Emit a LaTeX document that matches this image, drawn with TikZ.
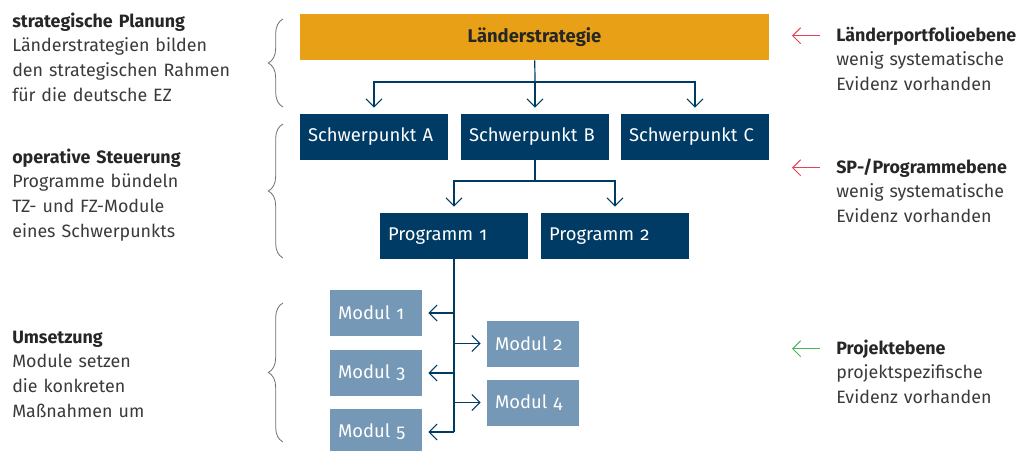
\documentclass[tikz,border=0pt]{standalone}
\usepackage{fontspec}
\setmainfont[Numbers=OldStyle]{Fira Sans}
\usetikzlibrary{arrows.meta,decorations.pathreplacing}

\definecolor{landorange}{HTML}{E8A117}
\definecolor{spblue}{HTML}{003B65}
\definecolor{modblue}{HTML}{7598B6}
\definecolor{txtgray}{HTML}{3A3A3A}
\definecolor{evred}{HTML}{E8414F}
\definecolor{evgreen}{HTML}{4DB45A}
\definecolor{bracegray}{HTML}{6E6E6E}

\newcommand{\txtfont}{\fontsize{13.4}{18.6}\selectfont}
\newcommand{\boxfont}{\fontsize{13.8}{18.6}\selectfont}

\tikzset{
  box/.style={fill=spblue, text=white, minimum height=34.5pt, inner xsep=6pt,
    inner ysep=0pt, text width=99pt, align=left, font=\boxfont},
  modbox/.style={box, fill=modblue, text width=57pt},
  link/.style={draw=spblue, line width=0.9pt},
  conn/.style={link, -{Straight Barb[length=6pt,width=12pt]}, shorten >=4.5pt},
  levelbrace/.style={decorate, decoration={brace, amplitude=11pt},
    draw=bracegray, line width=0.6pt},
  lefttext/.style={text=txtgray, text width=210pt, align=left, inner sep=0pt,
    anchor=base west, font=\txtfont},
  evtitle/.style={text=black!85, inner sep=0pt, anchor=base west,
    font=\txtfont\bfseries},
  evbody/.style={text=txtgray, text width=150pt, align=left, inner sep=0pt,
    anchor=base west, font=\txtfont},
  evarrow/.style={line width=0.7pt, -{Straight Barb[length=6pt,width=12pt]},
    shorten <=12pt}
}

\begin{document}
\begin{tikzpicture}[x=0.75pt, y=-0.75pt]
  \clip (0,0) rectangle (1028,450);

  % hierarchy boxes
  \node[box, fill=landorange, text=black!85, minimum width=351.75pt,
    text width=339.75pt, align=center, font=\boxfont\bfseries] (land) at (534.5,37) {Länderstrategie};

  \node[box] (spa) at (374,137) {Schwerpunkt A};
  \node[box] (spb) at (535,137) {Schwerpunkt B};
  \node[box] (spc) at (695,137) {Schwerpunkt C};

  \node[box] (p1) at (454,236) {Programm 1};
  \node[box] (p2) at (615,236) {Programm 2};

  \node[modbox] (m1) at (376,313) {Modul 1};
  \node[modbox] (m3) at (376,373) {Modul 3};
  \node[modbox] (m5) at (376,432) {Modul 5};
  \node[modbox] (m2) at (533,343.5) {Modul 2};
  \node[modbox] (m4) at (533,402.5) {Modul 4};

  % connectors
  \coordinate (split1) at (535,82);
  \coordinate (split2) at (535,181);

  \draw[link] (land) -- (split1);
  \draw[conn] (split1) -| (spa);
  \draw[conn] (split1) -- (spb);
  \draw[conn] (split1) -| (spc);

  \draw[link] (spb) -- (split2);
  \draw[conn] (split2) -| (p1);
  \draw[conn] (split2) -| (p2);

  \draw[link] (p1.south) -- (p1.south |- m5);
  \foreach \m in {m1,m2,m3,m4,m5}
    \draw[conn] (p1.south |- \m) -- (\m);

  % left column
  \draw[levelbrace] (283,107) -- (283,19);
  \draw[levelbrace] (283,258) -- (283,124);
  \draw[levelbrace] (283,442) -- (283,303);

  \node[lefttext] (plan) at (12,27) {\textbf{\color{black!85}strategische Planung}\\Länderstrategien bilden\\den strategischen Rahmen\\für die deutsche EZ};
  \node[lefttext] (steuer) at (12,163) {\textbf{\color{black!85}operative Steuerung}\\Programme bündeln\\TZ- und FZ-Module\\eines Schwerpunkts};
  \node[lefttext] (umsetz) at (12,343) {\textbf{\color{black!85}Umsetzung}\\Module setzen\\die konkreten\\Maßnahmen um};

  % right column
  \coordinate (tipx) at (792,0);

  \node[evtitle] (ev1) at (836,41) {Länderportfolioebene};
  \node[evbody] (ev1txt) at (836,65.5) {wenig systematische\\Evidenz vorhanden};
  \draw[evarrow, evred] (ev1.west) -- (ev1.west -| tipx);

  \node[evtitle] (ev2) at (836,173) {SP-/Programmebene};
  \node[evbody] (ev2txt) at (836,197.5) {wenig systematische\\Evidenz vorhanden};
  \draw[evarrow, evred] (ev2.west) -- (ev2.west -| tipx);

  \node[evtitle] (ev3) at (836,354) {Projektebene};
  \node[evbody] (ev3txt) at (836,378.5) {projektspezifische\\Evidenz vorhanden};
  \draw[evarrow, evgreen] (ev3.west) -- (ev3.west -| tipx);
\end{tikzpicture}
\end{document}
